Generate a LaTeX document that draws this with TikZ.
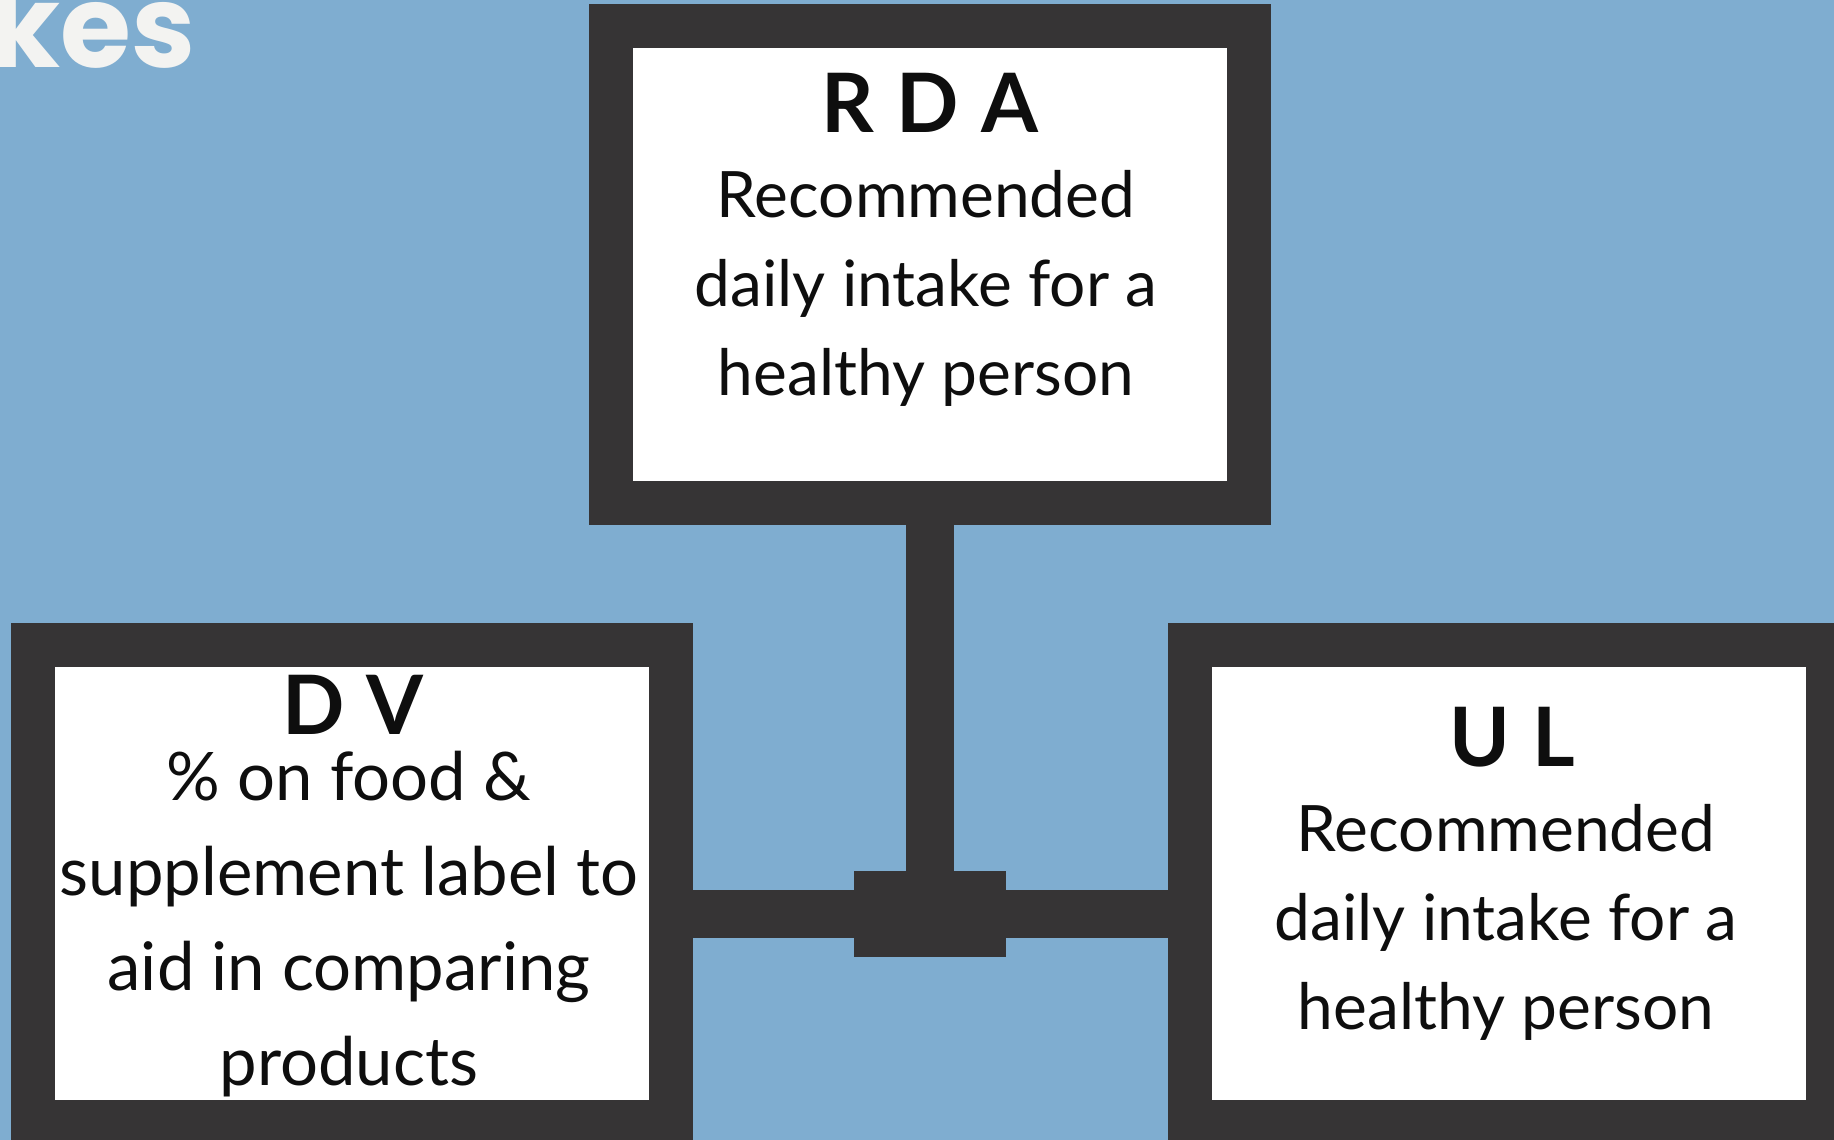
\documentclass[tikz,border=0pt]{standalone}
\usepackage{fontspec}
\setmainfont{Lato}
\newfontfamily\headfont{Poppins}[UprightFont=* Bold]
\definecolor{skyblue}{RGB}{127,173,208}
\definecolor{frame}{RGB}{54,52,53}
\definecolor{ink}{RGB}{14,14,14}
\definecolor{chalk}{RGB}{243,243,241}
\newcommand{\gapsp}{\hspace{22pt}}
\begin{document}
\begin{tikzpicture}[x=1pt,y=-1pt,
  panel/.style={draw=frame,fill=white,line width=44pt,inner sep=0pt,
    minimum width=638pt,minimum height=477pt},
  link/.style={draw=frame,line width=48pt},
  hubbox/.style={fill=frame,inner sep=0pt,minimum width=152pt,minimum height=86pt},
  title/.style={anchor=base,inner sep=0pt,text=ink,font=\fontsize{82}{82}\selectfont\bfseries},
  body/.style={anchor=base,inner sep=0pt,text=ink,align=center}
]
\useasboundingbox (0,0) rectangle (1834,1140);
\clip (0,0) rectangle (1834,1140);
\fill[skyblue] (0,0) rectangle (1834,1140);

% heading fragment at the top-left corner
\node[anchor=base east,inner sep=0pt,text=chalk,font=\fontsize{115}{115}\headfont] (head) at (196,68) {kes};

% three panels
\node[panel] (rda) at (930,264.5) {};
\node[panel] (dv) at (351.5,883.5) {};
\node[panel] (ul) at (1508.5,883.5) {};

% junction and connectors
\node[hubbox] (hub) at (930,914) {};
\draw[link] (rda.south) -- (hub.center);
\draw[link] (hub.center) -- (hub -| dv.east);
\draw[link] (hub.center) -- (hub -| ul.west);

% texts (body nodes are placed by the baseline of their last line)
\node[title] (rdaT) at (930,132) {R\gapsp D\gapsp A};
\node[body,font=\fontsize{64}{89}\selectfont] (rdaB) at (926,395)
  {Recommended\\daily intake for a\\healthy person};

\node[title] (dvT) at (353,734) {D\gapsp V};
\node[body,font=\fontsize{67}{95}\selectfont] (dvB) at (349,1085)
  {\% on food \&\\supplement label to\\aid in comparing\\products};

\node[title] (ulT) at (1512,766) {U\gapsp L};
\node[body,font=\fontsize{64}{89}\selectfont] (ulB) at (1506,1029)
  {Recommended\\daily intake for a\\healthy person};
\end{tikzpicture}
\end{document}
